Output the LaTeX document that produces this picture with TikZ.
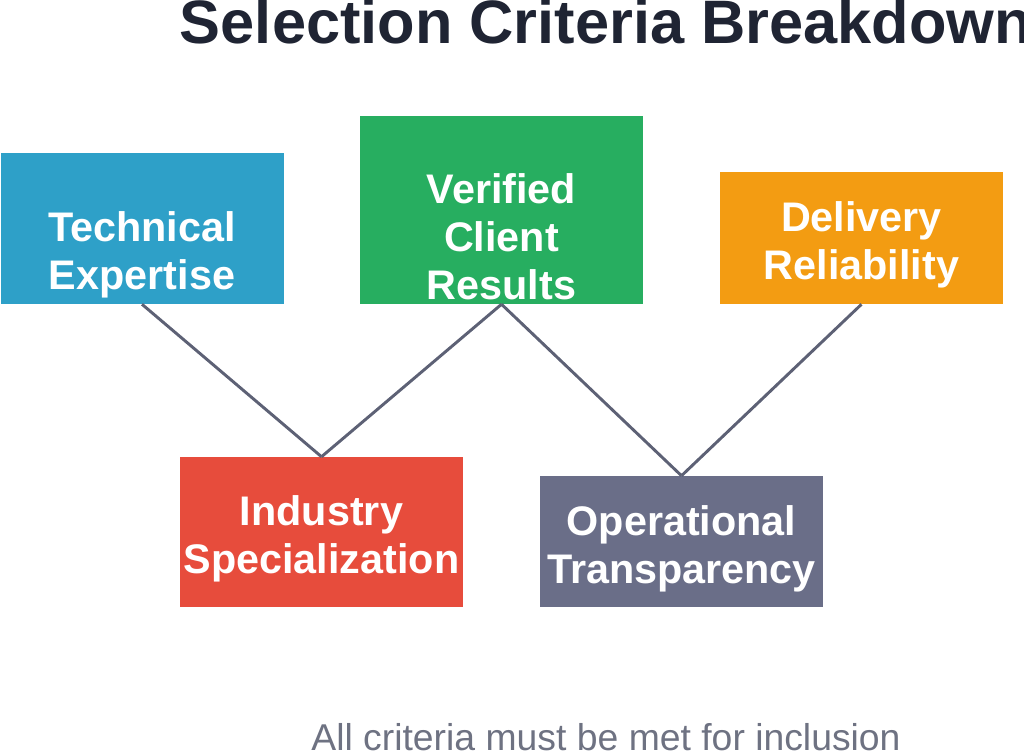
\documentclass[tikz,border=0pt]{standalone}
\usepackage{fontspec}
\setmainfont{Liberation Sans}
\usetikzlibrary{positioning}
\definecolor{techblue}{RGB}{46,160,200}
\definecolor{resgreen}{RGB}{39,174,96}
\definecolor{delorange}{RGB}{243,156,18}
\definecolor{indred}{RGB}{231,76,60}
\definecolor{opgray}{RGB}{106,110,136}
\definecolor{linkgray}{RGB}{93,97,117}
\definecolor{titledark}{RGB}{31,36,51}
\definecolor{notegray}{RGB}{110,114,130}
\newlength{\px}\setlength{\px}{0.75pt}
\tikzset{
crit/.style={inner sep=0pt,minimum width=283\px},
critlab/.style={inner sep=0pt,align=center,text=white,font=\fontsize{31}{36}\selectfont\bfseries},
link/.style={draw=linkgray,line width=2.2pt}
}
\begin{document}
\begin{tikzpicture}[x=0.75pt,y=-0.75pt]
\useasboundingbox (0,0) rectangle (1024,752);

% Boxes
\node[crit,fill=techblue,minimum height=151\px,
  label={[critlab,yshift=-26\px]center:Technical\\Expertise}] (tech) at (142,228.5) {};
\node[crit,fill=resgreen,minimum height=188\px,
  label={[critlab,yshift=-27\px]center:Verified\\Client\\Results}] (res) at (501.5,210) {};
\node[crit,fill=delorange,minimum height=132\px,
  label={[critlab,yshift=-7\px]center:Delivery\\Reliability}] (del) at (861.5,238) {};
\node[crit,fill=indred,minimum height=150\px,
  label={[critlab,yshift=-7\px]center:Industry\\Specialization}] (ind) at (321.5,532) {};
\node[crit,fill=opgray,minimum height=131\px,
  label={[critlab,yshift=-7\px]center:Operational\\Transparency}] (op) at (681.5,541.5) {};

% Links
\draw[link] (tech.south) -- (ind.north);
\draw[link] (res.south) -- (ind.north);
\draw[link] (res.south) -- (op.north);
\draw[link] (del.south) -- (op.north);

% Labels
\node[font=\fontsize{46}{50}\selectfont\bfseries,text=titledark,anchor=base] (title) at (606,44) {Selection Criteria Breakdown};
\node[font=\fontsize{28}{32}\selectfont,text=notegray,anchor=base] (note) at (606,750) {All criteria must be met for inclusion};
\end{tikzpicture}
\end{document}
